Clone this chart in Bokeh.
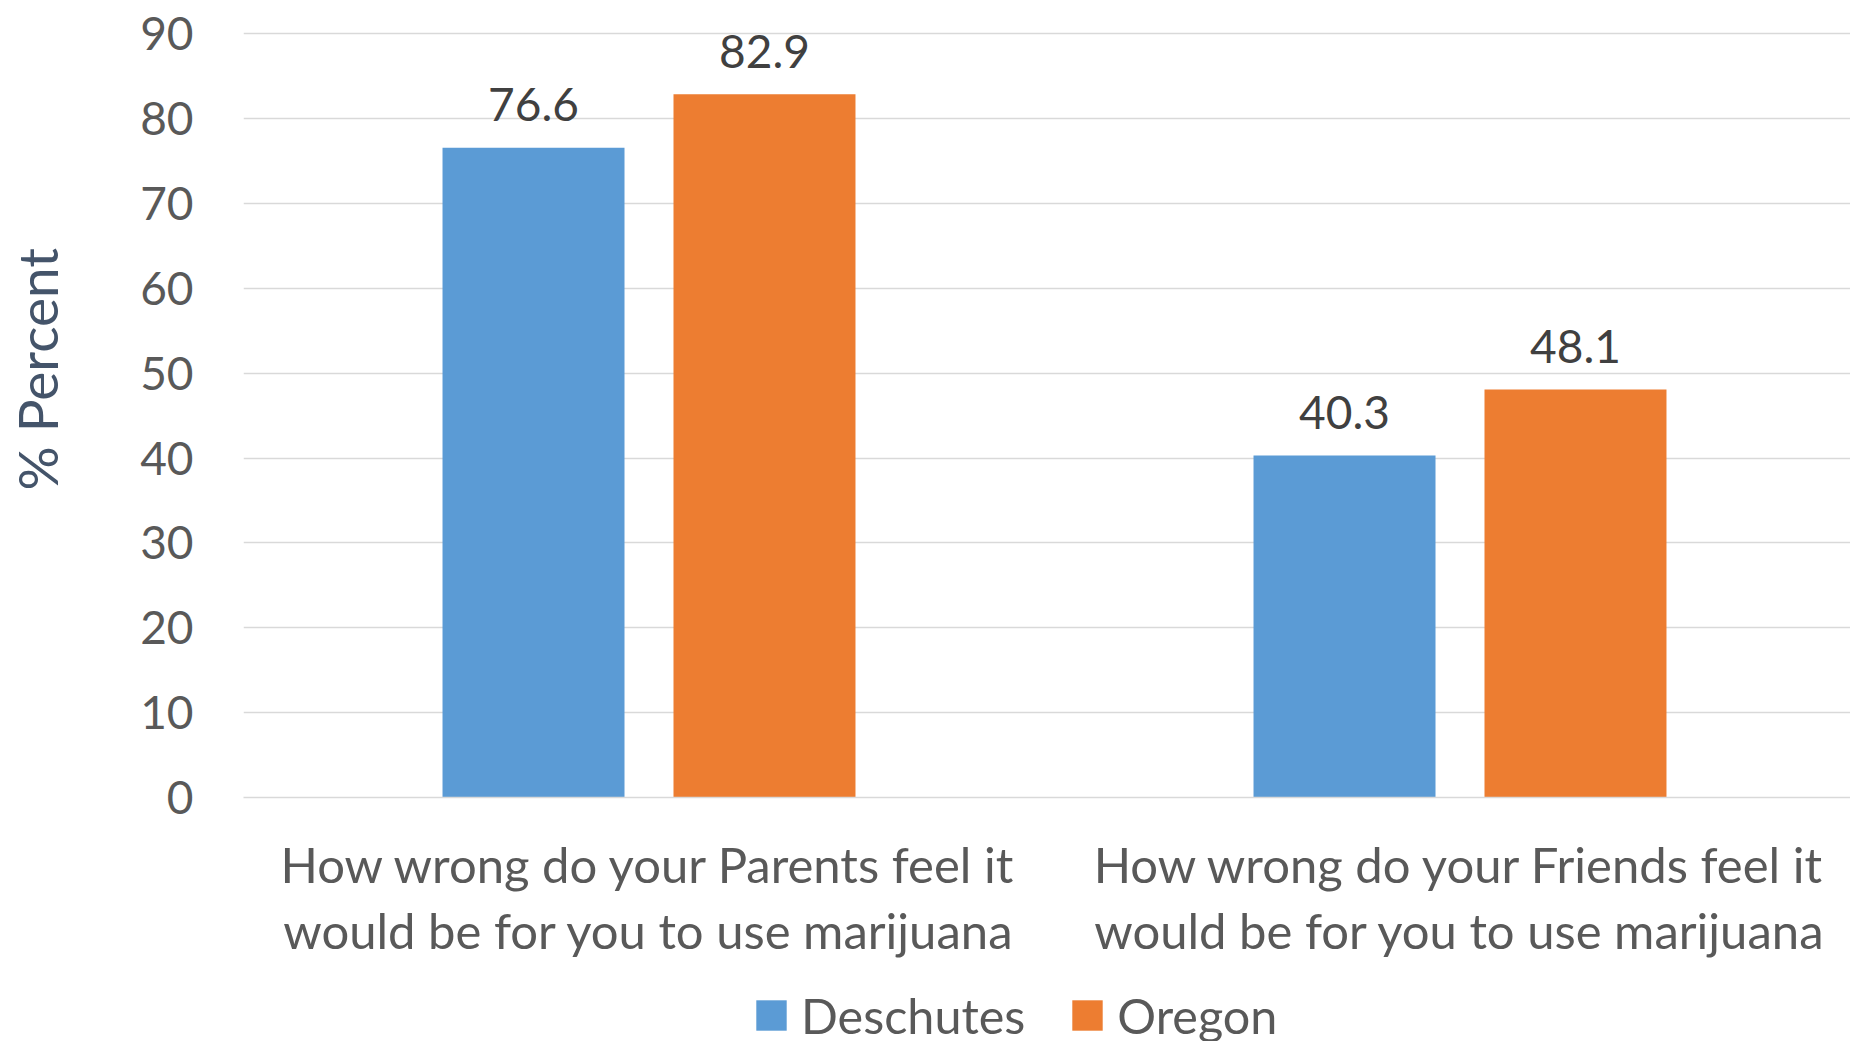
from bokeh.plotting import figure
from bokeh.models import ColumnDataSource, FixedTicker, Range1d, Legend, LegendItem
from bokeh.layouts import column
from bokeh.embed import file_html
from bokeh.resources import INLINE
from bokeh.core.properties import value

# ---- data ----
categories = [
    "How wrong do your Parents feel it\nwould be for you to use marijuana",
    "How wrong do your Friends feel it\nwould be for you to use marijuana",
]
series_names = ["Deschutes", "Oregon"]
deschutes = [76.6, 40.3]
oregon = [82.9, 48.1]
y_ticks = [0, 10, 20, 30, 40, 50, 60, 70, 80, 90]
y_axis_title = "% Percent"

# ---- style ----
colors = ["#5B9BD5", "#ED7D31"]
FONT = "Lato"
W, H = 1850, 1041
H_MAIN = 985
H_LEG = H - H_MAIN
LEFT = 243
FRAME_BOTTOM = 797
TOP = 25
Y_END = 91
cat_px = 811.0
frame_w = W - LEFT
bar_w = 0.2244
off = 0.1424
NBSP = "\u00a0"

p = figure(width=W, height=H_MAIN, output_backend="svg", toolbar_location=None,
           x_range=Range1d(0, frame_w / cat_px), y_range=Range1d(0, Y_END),
           min_border_left=LEFT, min_border_right=0, min_border_top=TOP,
           min_border_bottom=H_MAIN - FRAME_BOTTOM)
p.outline_line_color = None
p.background_fill_color = "white"
p.border_fill_color = "white"

centers = [i + 0.5 for i in range(len(categories))]
series_vals = [deschutes, oregon]
for k, (name, vals, col) in enumerate(zip(series_names, series_vals, colors)):
    xs = [c + (-off if k == 0 else off) for c in centers]
    src = ColumnDataSource(dict(x=xs, top=vals, lab=[f"{v:.1f}" for v in vals]))
    p.vbar(x="x", top="top", width=bar_w, bottom=0, source=src,
           fill_color=col, line_color=None)
    p.text(x="x", y="top", text="lab", source=src, text_align="center",
           text_baseline="alphabetic", y_offset=-43, text_font=value(FONT),
           text_font_size="46px", text_color="#404040")

# grid
p.xgrid.visible = False
p.ygrid.ticker = FixedTicker(ticks=y_ticks)
p.ygrid.grid_line_color = "#D9D9D9"
p.ygrid.grid_line_width = 1.5

# y axis
p.yaxis.ticker = FixedTicker(ticks=y_ticks)
p.yaxis.axis_line_color = None
p.yaxis.major_tick_line_color = None
p.yaxis.minor_tick_line_color = None
p.yaxis.major_tick_out = 0
p.yaxis.major_label_standoff = 50
p.yaxis.major_label_text_font = FONT
p.yaxis.major_label_text_font_size = "46px"
p.yaxis.major_label_text_color = "#595959"
# leading no-break spaces move the title up (it sits above the frame's middle)
p.yaxis.axis_label = NBSP * 6 + y_axis_title
p.yaxis.axis_label_standoff = 67
p.yaxis.axis_label_text_font = FONT
p.yaxis.axis_label_text_font_size = "55px"
p.yaxis.axis_label_text_font_style = "normal"
p.yaxis.axis_label_text_color = "#44546A"

# x axis
p.xaxis.ticker = FixedTicker(ticks=centers)
p.xaxis.major_label_overrides = {c: lab for c, lab in zip(centers, categories)}
p.xaxis.axis_line_color = "#D9D9D9"
p.xaxis.axis_line_width = 1.5
p.xaxis.major_tick_line_color = None
p.xaxis.minor_tick_line_color = None
p.xaxis.major_tick_out = 0
p.xaxis.major_label_standoff = 37
p.xaxis.major_label_text_font = FONT
p.xaxis.major_label_text_font_size = "49px"
p.xaxis.major_label_text_color = "#595959"
p.xaxis.major_label_text_line_height = 1.151

# ---- legend strip below the chart (bars drawn out of view, used as legend swatches) ----
q = figure(width=W, height=H_LEG, output_backend="svg", toolbar_location=None,
           x_range=Range1d(0, frame_w / cat_px), y_range=Range1d(500, 501),
           min_border=0, min_border_left=0, min_border_right=0,
           min_border_top=0, min_border_bottom=0)
q.axis.visible = False
q.grid.visible = False
q.outline_line_color = None
q.border_fill_color = "white"
leg_renderers = []
for k, (vals, col) in enumerate(zip(series_vals, colors)):
    xs = [c + (-off if k == 0 else off) for c in centers]
    leg_renderers.append(q.vbar(x=xs, top=vals, width=bar_w, bottom=0,
                                fill_color=col, line_color=None))
legend = Legend(items=[LegendItem(label=n, renderers=[r]) for n, r in zip(series_names, leg_renderers)],
                orientation="horizontal", location=(509, -3),
                glyph_width=38, glyph_height=38, label_height=38,
                label_standoff=11, spacing=43, padding=0, margin=0,
                border_line_color=None, background_fill_alpha=0,
                label_text_font=FONT, label_text_font_size="48.5px",
                label_text_color="#595959")
q.add_layout(legend, "center")

open("out.html", "w").write(file_html(column(p, q, spacing=0), INLINE))
